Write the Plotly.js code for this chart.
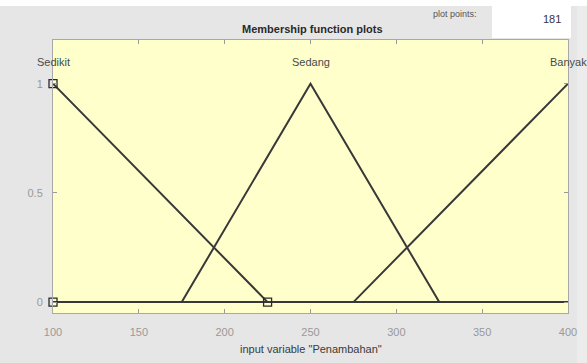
<!DOCTYPE html>
<html>
<head>
<meta charset="utf-8">
<script src="https://cdn.plot.ly/plotly-3.0.1.min.js"></script>
<style>
  html, body { margin: 0; padding: 0; background: #e6e6e6; }
  #chart { width: 587px; height: 363px; }
</style>
</head>
<body>
<div id="chart"></div>
<script>
// Membership functions of the input variable "Penambahan" (range 100..400)
const mfNames = ["Sedikit", "Sedang", "Banyak"];
const mfX = [
  [100, 225, 400],           // Sedikit: trimf, falls from 1 at 100 to 0 at 225
  [100, 175, 250, 325, 400], // Sedang: trimf peaking at 250
  [100, 275, 400]            // Banyak: trimf, rises from 0 at 275 to 1 at 400
];
const mfY = [
  [1, 0, 0],
  [0, 0, 1, 0, 0],
  [0, 0, 1]
];
// Label position for each function name
const labelX = [100, 250, 400];
const labelY = 1.1;
// Edit handles of the selected function (Sedikit)
const handleX = [100, 100, 225];
const handleY = [1, 0, 0];
const plotPoints = "181";

const traces = mfNames.map((name, i) => ({
  type: "scatter",
  mode: "lines",
  name: name,
  x: mfX[i],
  y: mfY[i],
  line: { color: "#383838", width: 2 },
  hoverinfo: "skip",
  cliponaxis: false
}));
traces.push({
  type: "scatter",
  mode: "markers",
  x: handleX,
  y: handleY,
  marker: { symbol: "square-open", size: 8, color: "#2a2a2a", line: { width: 1.3 } },
  cliponaxis: false,
  hoverinfo: "skip"
});

const font = "Liberation Sans, Arial, sans-serif";

const annotations = mfNames.map((name, i) => ({
  x: labelX[i], y: labelY, xref: "x", yref: "y",
  text: name, showarrow: false, xanchor: "center", yanchor: "middle",
  font: { family: font, size: 11, color: "#4a4a4a" }
}));
annotations.push(
  { x: 0.503, y: 1.04, xref: "paper", yref: "paper", text: "<b>Membership function plots</b>",
    showarrow: false, xanchor: "center", yanchor: "middle",
    font: { family: font, size: 11, color: "#2a2a2a" } },
  { x: 0.781, y: 1.097, xref: "paper", yref: "paper", text: "plot points:",
    showarrow: false, xanchor: "center", yanchor: "middle",
    font: { family: font, size: 9, color: "#555555" } },
  { x: 0.99, y: 1.077, xref: "paper", yref: "paper", text: plotPoints,
    showarrow: false, xanchor: "right", yanchor: "middle",
    font: { family: font, size: 11, color: "#333344" } },
  { x: 0.5, y: -0.132, xref: "paper", yref: "paper", text: 'input variable "Penambahan"',
    showarrow: false, xanchor: "center", yanchor: "middle",
    font: { family: font, size: 11, color: "#3a3a3a" } }
);

const shapes = [
  // white strip along the top of the window
  { type: "rect", xref: "paper", yref: "paper", x0: -0.11, x1: 1.05, y0: 1.1245, y1: 1.16,
    fillcolor: "#ffffff", line: { width: 0 }, layer: "below" },
  // plot points input box
  { type: "rect", xref: "paper", yref: "paper", x0: 0.8524, x1: 1.006, y0: 1.0073, y1: 1.1245,
    fillcolor: "#ffffff", line: { width: 0 }, layer: "below" },
  // panel strip to the right of the input box
  { type: "rect", xref: "paper", yref: "paper", x0: 1.006, x1: 1.05, y0: -0.2, y1: 1.1245,
    fillcolor: "#e6e6e6", line: { width: 0 }, layer: "below" },
  { type: "rect", xref: "paper", yref: "paper", x0: 1.0175, x1: 1.05, y0: -0.2, y1: 1.1245,
    fillcolor: "#ececec", line: { width: 0 }, layer: "below" }
];

const layout = {
  width: 587, height: 363,
  margin: { l: 53, r: 19, t: 40, b: 50, pad: 0 },
  paper_bgcolor: "#e6e6e6",
  plot_bgcolor: "#ffffcc",
  showlegend: false,
  xaxis: {
    range: [100, 400], tickvals: [100, 150, 200, 250, 300, 350, 400],
    ticks: "inside", ticklen: 4, tickcolor: "#999999", mirror: "ticks",
    showline: true, linecolor: "#a8a8a8", linewidth: 1,
    showgrid: false, zeroline: false, ticklabelstandoff: 9,
    tickfont: { family: font, size: 11, color: "#999999" }
  },
  yaxis: {
    range: [-0.05, 1.2], tickvals: [0, 0.5, 1],
    ticks: "inside", ticklen: 4, tickcolor: "#999999", mirror: "ticks",
    showline: true, linecolor: "#a8a8a8", linewidth: 1,
    showgrid: false, zeroline: false, ticklabelstandoff: 7,
    tickfont: { family: font, size: 11, color: "#999999" }
  },
  annotations: annotations,
  shapes: shapes
};

Plotly.newPlot("chart", traces, layout, { displayModeBar: false, staticPlot: true });
</script>
</body>
</html>
